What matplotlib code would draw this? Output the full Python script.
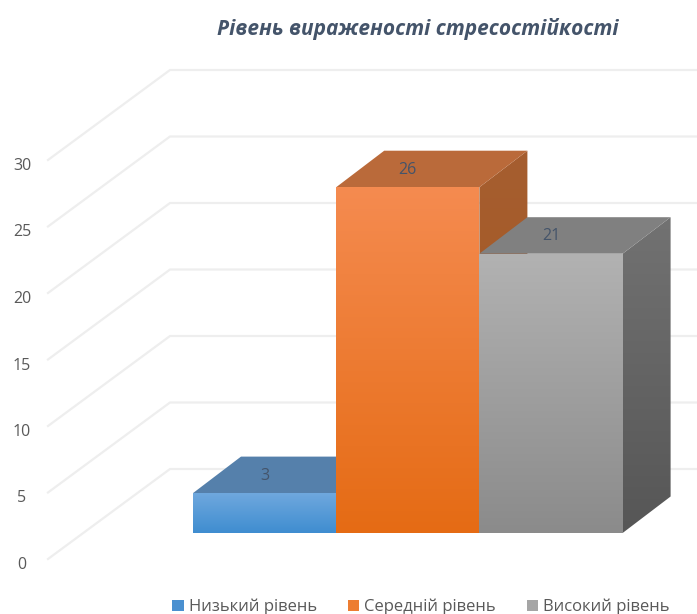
import numpy as np
import matplotlib
matplotlib.use("Agg")
import matplotlib.pyplot as plt
from matplotlib.colors import LinearSegmentedColormap
from matplotlib.patches import Patch, Polygon

plt.rcParams['font.family'] = ['Open Sans', 'DejaVu Sans']

# Data
categories = ["Низький рівень", "Середній рівень", "Високий рівень"]
values = [3, 26, 21]
y_ticks = [0, 5, 10, 15, 20, 25, 30]
title = "Рівень вираженості стресостійкості"

# Colours of each bar: front (top, bottom), top face, side (top, bottom)
front_colors = [("#6fa8de", "#3f8dd0"), ("#f58b50", "#e56b14"), ("#b2b2b2", "#8b8b8b")]
top_colors = ["#5580ab", "#ba6a3a", "#808080"]
side_colors = [("#44668a", "#325578"), ("#a55e30", "#a8561c"), ("#727272", "#565656")]
legend_colors = ["#4a90d0", "#ed7d31", "#a5a5a5"]

# Scale: one category is 143.2 px wide, one value unit is 13.3 px high
px_x = 143.2
px_y = 13.3
fig_w, fig_h = 697, 614
depth_x = 48 / px_x   # bar depth
depth_y = 36.5 / px_y
floor_px = 533        # pixel row of the bar base
left_px = 193         # pixel column of the first bar

fig = plt.figure(figsize=(fig_w / 100, fig_h / 100), dpi=100)
ax = fig.add_axes([0, 0, 1, 1])


def gradient_poly(points, colors, zorder):
    # fills a polygon with a vertical gradient
    cmap = LinearSegmentedColormap.from_list("g", colors)
    pts = np.array(points)
    im = ax.imshow(np.linspace(0, 1, 256).reshape(-1, 1), cmap=cmap, aspect="auto", origin="upper",
                   extent=(pts[:, 0].min(), pts[:, 0].max(), pts[:, 1].min(), pts[:, 1].max()),
                   zorder=zorder, interpolation="bilinear")
    patch = Polygon(points, closed=True, transform=ax.transData, fc="none", ec="none")
    ax.add_patch(patch)
    im.set_clip_path(patch)


# Walls: gridlines run from the front of the floor to the back wall and on to the right
grid_front_x = (48 - left_px) / px_x - 0.5
grid_back_x = (170 - left_px) / px_x - 0.5
grid_end_x = (fig_w - left_px) / px_x - 0.5
grid_front_off = (533 - 559) / px_y
grid_back_off = (533 - 469) / px_y
label_x = (22 - left_px) / px_x - 0.5
label_off = (533 - 565) / px_y
for tick in y_ticks:
    ax.plot([grid_front_x, grid_back_x, grid_end_x],
            [tick + grid_front_off, tick + grid_back_off, tick + grid_back_off],
            color="#eeeeee", lw=1.6, zorder=1, solid_joinstyle="round")
    ax.text(label_x, tick + label_off, str(tick),
            ha="center", va="center", fontsize=11.5, color="#595959")

# Bars, left to right so that each one covers the side of the previous
for i, val in enumerate(values):
    x0, x1 = i - 0.5, i + 0.5
    z = 2 + i
    gradient_poly([(x0, 0), (x1, 0), (x1, val), (x0, val)], front_colors[i], z + 0.2)
    ax.add_patch(Polygon([(x0, val), (x1, val), (x1 + depth_x, val + depth_y), (x0 + depth_x, val + depth_y)],
                         closed=True, fc=top_colors[i], ec="none", zorder=z + 0.1))
    gradient_poly([(x1, 0), (x1 + depth_x, depth_y), (x1 + depth_x, val + depth_y), (x1, val)],
                  side_colors[i], z)
    ax.text(i, val + depth_y / 2 - 0.05, str(val), ha="center", va="center",
            fontsize=11.5, color="#44546a", zorder=10)

ax.set_xlim(-left_px / px_x - 0.5, (fig_w - left_px) / px_x - 0.5)
ax.set_ylim((floor_px - fig_h) / px_y, floor_px / px_y)
ax.axis("off")

fig.text(418 / fig_w, 1 - 29 / fig_h, title, ha="center", va="center", fontsize=15,
         style="italic", fontweight="bold", color="#44546a")

handles = [Patch(fc=c, ec="none") for c in legend_colors]
fig.legend(handles, categories, ncol=3, loc="center", bbox_to_anchor=(421 / fig_w, 1 - 607 / fig_h),
           frameon=False, fontsize=12, labelcolor="#595959", handlelength=0.7, handleheight=0.7,
           handletextpad=0.3, columnspacing=1.85, borderpad=0)

fig.savefig("out.png", dpi=100)
